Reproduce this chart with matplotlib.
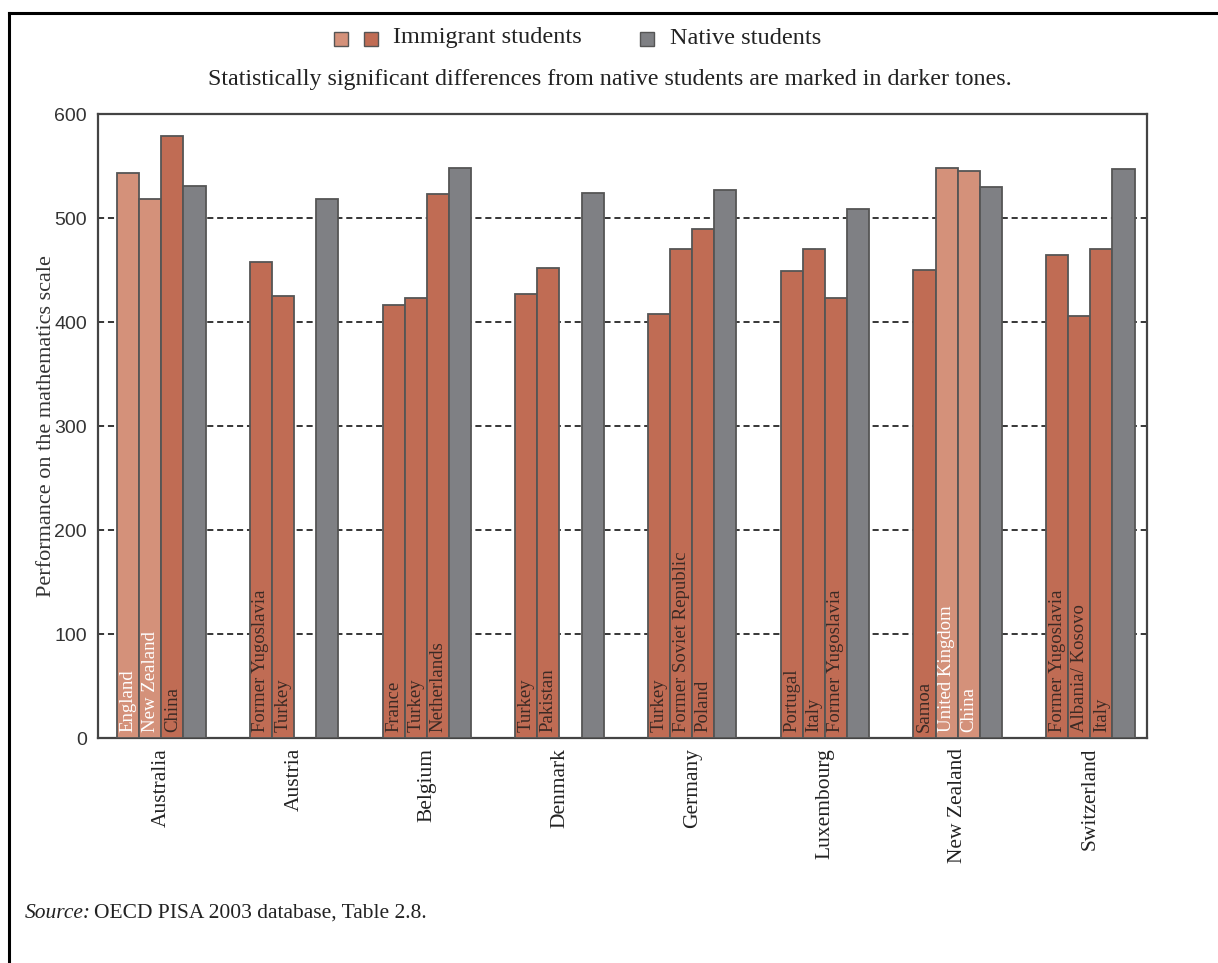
import matplotlib
matplotlib.use("Agg")
import matplotlib.pyplot as plt
import numpy as np
from matplotlib.patches import Rectangle
from matplotlib.lines import Line2D

countries = ['Australia', 'Austria', 'Belgium', 'Denmark', 'Germany',
             'Luxembourg', 'New Zealand', 'Switzerland']

# country of origin of the immigrant students, 3 slots per country ('' = empty slot)
origin_names = [
    ['England', 'New Zealand', 'China'],
    ['Former Yugoslavia', 'Turkey', ''],
    ['France', 'Turkey', 'Netherlands'],
    ['Turkey', 'Pakistan', ''],
    ['Turkey', 'Former Soviet Republic', 'Poland'],
    ['Portugal', 'Italy', 'Former Yugoslavia'],
    ['Samoa', 'United Kingdom', 'China'],
    ['Former Yugoslavia', 'Albania/ Kosovo', 'Italy'],
]
immigrant_scores = [
    [543, 518, 579],
    [458, 425, np.nan],
    [416, 423, 523],
    [427, 452, np.nan],
    [408, 470, 489],
    [449, 470, 423],
    [450, 548, 545],
    [464, 406, 470],
]
# 1 = statistically significant difference from native students (darker tone)
significant = [
    [0, 0, 1],
    [1, 1, 0],
    [1, 1, 1],
    [1, 1, 0],
    [1, 1, 1],
    [1, 1, 1],
    [1, 0, 0],
    [1, 1, 1],
]
native_scores = [531, 518, 548, 524, 527, 509, 530, 547]

light_col = '#d4917a'
dark_col = '#c06c54'
native_col = '#7f8084'
edge_col = '#555555'
serif = ['Liberation Serif', 'DejaVu Serif']

fig = plt.figure(figsize=(12.18, 9.63), dpi=100)
ax = fig.add_axes([0.0805, 0.2336, 0.861, 0.648])

for g in range(len(countries)):
    for k in range(3):
        val = immigrant_scores[g][k]
        if np.isnan(val):
            continue
        x = g * 6 + k
        col = dark_col if significant[g][k] else light_col
        ax.bar(x, val, width=1, align='edge', color=col, edgecolor=edge_col,
               linewidth=1.3, zorder=3)
        tcol = '#3a2a25' if significant[g][k] else 'white'
        ax.text(x + 0.5, 6, origin_names[g][k], rotation=90, ha='center', va='bottom',
                fontsize=13.5, color=tcol, family=serif, zorder=4)
    ax.bar(g * 6 + 3, native_scores[g], width=1, align='edge', color=native_col,
           edgecolor=edge_col, linewidth=1.3, zorder=3)

ax.set_xlim(-0.86, 46.55)
ax.set_ylim(0, 600)
ax.set_yticks(range(0, 601, 100))
for yv in range(100, 600, 100):
    ax.axhline(yv, color='black', linestyle=(0, (4, 2.5)), linewidth=1.1, zorder=1)
ax.set_xticks([g * 6 + 2 for g in range(len(countries))])
ax.set_xticklabels(countries, rotation=90, fontsize=15.5, family=serif, color='#222222')
ax.tick_params(axis='both', length=0)
ax.tick_params(axis='y', pad=8, labelsize=14, labelcolor='#333333')
for lab in ax.get_yticklabels():
    lab.set_family(['Liberation Sans', 'DejaVu Sans'])
ax.tick_params(axis='x', pad=7)
for s in ax.spines.values():
    s.set_color('#444444')
    s.set_linewidth(1.6)
ax.set_ylabel('Performance on the mathematics scale', fontsize=16, family=serif,
              color='#333333', labelpad=-1)

# legend
fig.add_artist(Rectangle((334 / 1218, 1 - 46 / 963), 14 / 1218, 14 / 963,
                         transform=fig.transFigure, facecolor=light_col, edgecolor=edge_col, lw=1))
fig.add_artist(Rectangle((364 / 1218, 1 - 46 / 963), 14 / 1218, 14 / 963,
                         transform=fig.transFigure, facecolor=dark_col, edgecolor=edge_col, lw=1))
fig.add_artist(Rectangle((640 / 1218, 1 - 46 / 963), 14 / 1218, 14 / 963,
                         transform=fig.transFigure, facecolor=native_col, edgecolor=edge_col, lw=1))
fig.text(393 / 1218, 1 - 38 / 963, 'Immigrant students', fontsize=17.5, family=serif,
         va='center', color='#222222')
fig.text(670 / 1218, 1 - 38 / 963, 'Native students', fontsize=17.5, family=serif,
         va='center', color='#222222')
fig.text(610 / 1218, 1 - 80 / 963,
         'Statistically significant differences from native students are marked in darker tones.',
         fontsize=17.3, family=serif, ha='center', va='center', color='#222222')

# source note
fig.text(25 / 1218, 1 - 913 / 963, 'Source:', fontsize=15.5, family=serif, style='italic',
         va='center', color='#222222')
fig.text(94 / 1218, 1 - 913 / 963, 'OECD PISA 2003 database, Table 2.8.', fontsize=15.5,
         family=serif, va='center', color='#222222')

# page frame (top and left edge)
fig.add_artist(Line2D([9 / 1218, 1], [1 - 13 / 963, 1 - 13 / 963], transform=fig.transFigure,
                      color='black', lw=2.2))
fig.add_artist(Line2D([9 / 1218, 9 / 1218], [0, 1 - 13 / 963], transform=fig.transFigure,
                      color='black', lw=2.2))

fig.savefig('out.png', dpi=100)
